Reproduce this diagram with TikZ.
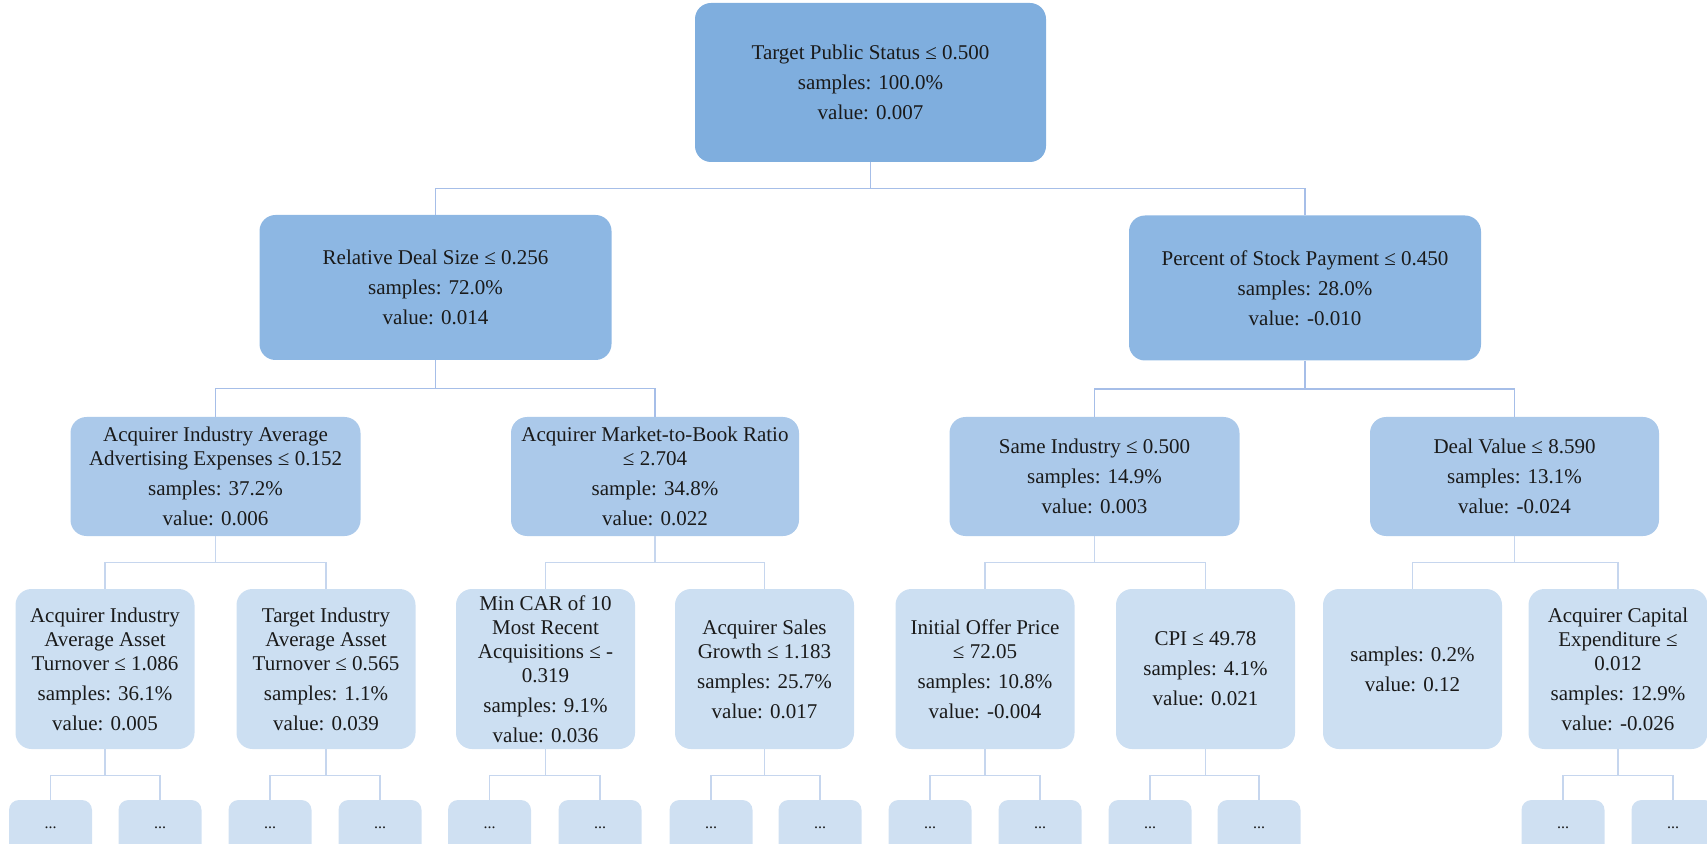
\documentclass[tikz,border=0pt]{standalone}
\usepackage{fontspec}
\setmainfont{Liberation Serif}
\definecolor{czero}{HTML}{7FAEDE}
\definecolor{cone}{HTML}{8DB7E3}
\definecolor{ctwo}{HTML}{ABC9EA}
\definecolor{cthree}{HTML}{CCDFF2}
\definecolor{cfour}{HTML}{CFE0F2}
\definecolor{lineA}{HTML}{A6BEE8}
\definecolor{lineB}{HTML}{C6D6EE}
\definecolor{txt}{HTML}{1A1A1A}
\tikzset{
  tbox/.style={rounded corners=8pt, align=center, inner sep=0pt, text=txt,
    font=\fontsize{10.5}{12}\selectfont},
  lvzero/.style={tbox, fill=czero, minimum width=175.5pt, minimum height=79.5pt},
  lvone/.style={tbox, fill=cone, minimum width=176pt, minimum height=72.5pt},
  lvtwo/.style={tbox, fill=ctwo, minimum width=145pt, minimum height=59.5pt},
  lvthree/.style={tbox, fill=cthree, minimum width=89.5pt, minimum height=80pt},
  lvfour/.style={tbox, fill=cfour, rounded corners=5pt, minimum width=41.5pt, minimum height=27.5pt,
    font=\fontsize{8}{9}\selectfont},
  connA/.style={draw=lineA, line width=0.75pt},
  connB/.style={draw=lineB, line width=0.75pt},
}
\newcommand{\gap}{\\[3pt]}
\begin{document}
\begin{tikzpicture}[x=0.5pt,y=-0.5pt]
\useasboundingbox (0,0) rectangle (1707,844);
% level 0
\node[lvzero] (root) at (870.5,82.5) {Target Public Status ≤ 0.500\gap samples: 100.0\%\gap value: 0.007};
% level 1
\node[lvone] (L) at (435.5,287.5) {Relative Deal Size ≤ 0.256\gap samples: 72.0\%\gap value: 0.014};
\node[lvone] (R) at (1305,288) {Percent of Stock Payment ≤ 0.450\gap samples: 28.0\%\gap value: -0.010};
% level 2
\node[lvtwo] (a) at (215.5,476.5) {Acquirer Industry Average\\Advertising Expenses ≤ 0.152\gap samples: 37.2\%\gap value: 0.006};
\node[lvtwo, minimum width=144pt] (b) at (655,476.5) {Acquirer Market-to-Book Ratio\\≤ 2.704\gap sample: 34.8\%\gap value: 0.022};
\node[lvtwo] (c) at (1094.5,476.5) {Same Industry ≤ 0.500\gap samples: 14.9\%\gap value: 0.003};
\node[lvtwo, minimum width=144.5pt] (d) at (1514.5,476.5) {Deal Value ≤ 8.590\gap samples: 13.1\%\gap value: -0.024};
% level 3
\node[lvthree] (a1) at (105,669) {Acquirer Industry\\Average Asset\\Turnover ≤ 1.086\gap samples: 36.1\%\gap value: 0.005};
\node[lvthree] (a2) at (326,669) {Target Industry\\Average Asset\\Turnover ≤ 0.565\gap samples: 1.1\%\gap value: 0.039};
\node[lvthree] (b1) at (545.5,669) {Min CAR of 10\\Most Recent\\Acquisitions ≤ -\\0.319\gap samples: 9.1\%\gap value: 0.036};
\node[lvthree] (b2) at (764.5,669) {Acquirer Sales\\Growth ≤ 1.183\gap samples: 25.7\%\gap value: 0.017};
\node[lvthree] (c1) at (985,669) {Initial Offer Price\\≤ 72.05\gap samples: 10.8\%\gap value: -0.004};
\node[lvthree] (c2) at (1205.5,669) {CPI ≤ 49.78\gap samples: 4.1\%\gap value: 0.021};
\node[lvthree] (d1) at (1412.5,669) {samples: 0.2\%\gap value: 0.12};
\node[lvthree] (d2) at (1618,669) {Acquirer Capital\\Expenditure ≤\\0.012\gap samples: 12.9\%\gap value: -0.026};
% level 4
\foreach \n/\x in {a11/50.5,a12/160,a21/270,a22/380,b11/489.5,b12/600,b21/711,b22/820,c11/930,c12/1040,c21/1150,c22/1259,d21/1563,d22/1673}
  \node[lvfour] (\n) at (\x,827.5) {...};
% connectors
\foreach \p/\c in {root/L,root/R}
  \draw[connA] (\p.south) -- ++(0,26) -| (\c.north);
\foreach \p/\c in {L/a,L/b,R/c,R/d}
  \draw[connA] (\p.south) -- ++(0,28) -| (\c.north);
\foreach \p/\c in {a/a1,a/a2,b/b1,b/b2,c/c1,c/c2,d/d1,d/d2}
  \draw[connB] (\p.south) -- ++(0,26) -| (\c.north);
\foreach \p/\c in {a1/a11,a1/a12,a2/a21,a2/a22,b1/b11,b1/b12,b2/b21,b2/b22,c1/c11,c1/c12,c2/c21,c2/c22,d2/d21,d2/d22}
  \draw[connB] (\p.south) -- ++(0,26) -| (\c.north);
\end{tikzpicture}
\end{document}
